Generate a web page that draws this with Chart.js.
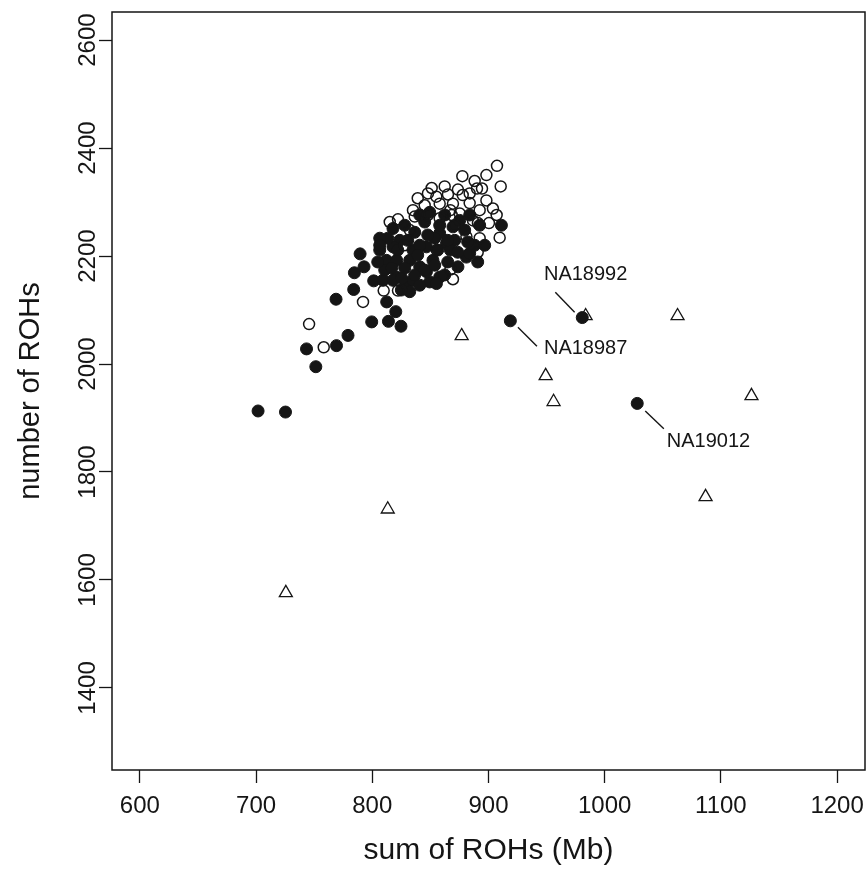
<!DOCTYPE html>
<html>
<head>
<meta charset="utf-8">
<script src="https://cdn.jsdelivr.net/npm/chart.js@4.4.1/dist/chart.umd.min.js"></script>
<style>
html,body{margin:0;padding:0;background:#fff;}
#wrap{width:866px;height:870px;}
</style>
</head>
<body>
<div id="wrap"><canvas id="c" width="866" height="870"></canvas></div>
<script>
// ---- data ----
const xTickValues = [600, 700, 800, 900, 1000, 1100, 1200];
const yTickValues = [1400, 1600, 1800, 2000, 2200, 2400, 2600];
const xTitle = 'sum of ROHs (Mb)';
const yTitle = 'number of ROHs';

// filled circles [sum of ROHs (Mb), number of ROHs]
const filledPoints = [
  [701.7,1913],[725.3,1911],[751.4,1995],[743.4,2028],[769.2,2034],[779.1,2053],
  [799.5,2078],[813.9,2079],[824.7,2070],[820.2,2097],[812.4,2115],[768.8,2120],
  [784.0,2138],[784.6,2169],[792.9,2180],[789.5,2204],[801.2,2154],[911.1,2257],
  [817.8,2251],[823.6,2229],[812.2,2192],[817.8,2217],[881.0,2198],[873.7,2180],
  [858.0,2161],[849.4,2152],[829.4,2149],[835.0,2211],[846.6,2217],[858.0,2242],
  [869.4,2254],[863.8,2223],[852.2,2192],[840.8,2180],[832.2,2192],[820.8,2161],
  [809.2,2155],[883.8,2205],[817.8,2155],[832.2,2134],[825.0,2137],[846.6,2171],
  [835.0,2155],[840.8,2146],[855.2,2149],[827.9,2257],[836.5,2244],[845.1,2263],
  [853.7,2233],[862.3,2276],[870.9,2229],[879.5,2248],[888.1,2220],[840.8,2220],
  [849.4,2281],[883.8,2276],[892.4,2257],[867.2,2211],[821.0,2192],[827.9,2178],
  [836.5,2165],[810.7,2174],[864.9,2189],[890.7,2189],[806.4,2211],[804.7,2189],
  [813.3,2233],[821.9,2211],[830.5,2229],[839.1,2202],[847.7,2239],[856.3,2211],
  [864.9,2229],[873.5,2207],[882.1,2226],[845.1,2174],[853.7,2183],[862.3,2165],
  [816.7,2178],[825.3,2159],[840.8,2276],[858.0,2257],[875.2,2266],[896.7,2220],
  [806.4,2233],[806.4,2220],
  [918.8,2080],[980.7,2086],[1028.0,1927]
];

// open circles
const openPoints = [
  [745.6,2074],[758.2,2031],[792.0,2115],[809.8,2136],[869.4,2157],[867.2,2175],
  [822.1,2136],[907.3,2367],[898.2,2350],[910.5,2329],[877.5,2348],[888.1,2339],
  [890.1,2325],[894.4,2325],[873.7,2323],[847.9,2316],[855.1,2310],[865.1,2314],
  [898.2,2303],[903.8,2288],[892.4,2285],[900.4,2261],[909.6,2234],[883.8,2298],
  [886.6,2266],[881.0,2236],[835.0,2285],[822.1,2268],[845.1,2294],[858.0,2297],
  [869.4,2297],[875.2,2279],[858.0,2270],[883.8,2316],[890.9,2261],[847.9,2276],
  [836.5,2273],[867.2,2285],[832.2,2248],[870.9,2257],[890.7,2207],[855.4,2211],
  [827.9,2220],[839.1,2307],[851.1,2326],[862.3,2329],[877.8,2313],[868.3,2276],
  [815.0,2263],[892.4,2233],[907.0,2276]
];

// open triangles
const trianglePoints = [
  [725.6,1576],[813.3,1731],[876.9,2052],[983.6,2089],[1062.7,2089],
  [949.2,1978],[956.0,1930],[1126.3,1941],[1086.8,1754]
];

// labelled samples: name, leader line (from -> to) and text centre, in data units
const sampleNames = ['NA18992', 'NA18987', 'NA19012'];
const sampleLeaderFrom = [[957.5,2133],[925.3,2068],[1034.9,1913]];
const sampleLeaderTo   = [[974.1,2096],[941.7,2033],[1050.9,1880]];
const sampleTextAt     = [[983.6,2165],[983.6,2028],[1089.3,1857]];

// ---- chart ----
const INK = '#151515';
const FONT = '"Liberation Sans", Arial, Helvetica, sans-serif';
const toXY = arr => arr.map(p => ({x: p[0], y: p[1]}));

const boxPlugin = {
  id: 'box',
  afterDraw(chart) {
    const {ctx, chartArea: a} = chart;
    ctx.save();
    ctx.strokeStyle = INK;
    ctx.lineWidth = 1.5;
    ctx.strokeRect(a.left, a.top, a.right - a.left, a.bottom - a.top);
    ctx.restore();
  }
};

// tick labels drawn at the library's tick positions
const tickLabelPlugin = {
  id: 'tickLabels',
  afterDraw(chart) {
    const {ctx, chartArea: a} = chart;
    const xs = chart.scales.x, ys = chart.scales.y;
    ctx.save();
    ctx.fillStyle = INK;
    ctx.font = '24px ' + FONT;
    ctx.textAlign = 'center';
    ctx.textBaseline = 'middle';
    xTickValues.forEach(v => {
      ctx.fillText(String(v), xs.getPixelForValue(v), a.bottom + 36);
    });
    yTickValues.forEach(v => {
      const py = ys.getPixelForValue(v);
      ctx.save();
      ctx.translate(a.left - 24, py);
      ctx.rotate(-Math.PI / 2);
      ctx.fillText(String(v), 0, 0);
      ctx.restore();
    });
    ctx.restore();
  }
};

const samplePlugin = {
  id: 'samples',
  afterDatasetsDraw(chart) {
    const {ctx} = chart;
    const xs = chart.scales.x, ys = chart.scales.y;
    ctx.save();
    ctx.strokeStyle = INK;
    ctx.fillStyle = INK;
    ctx.lineWidth = 1.4;
    ctx.font = '20px ' + FONT;
    ctx.textAlign = 'center';
    ctx.textBaseline = 'middle';
    sampleNames.forEach((name, i) => {
      ctx.beginPath();
      ctx.moveTo(xs.getPixelForValue(sampleLeaderFrom[i][0]), ys.getPixelForValue(sampleLeaderFrom[i][1]));
      ctx.lineTo(xs.getPixelForValue(sampleLeaderTo[i][0]), ys.getPixelForValue(sampleLeaderTo[i][1]));
      ctx.stroke();
      ctx.fillText(name, xs.getPixelForValue(sampleTextAt[i][0]), ys.getPixelForValue(sampleTextAt[i][1]));
    });
    ctx.restore();
  }
};

new Chart(document.getElementById('c'), {
  type: 'scatter',
  data: {
    datasets: [
      {
        label: 'open',
        data: toXY(openPoints),
        pointStyle: 'circle',
        pointRadius: 5.5,
        pointBackgroundColor: 'rgba(0,0,0,0)',
        pointBorderColor: INK,
        pointBorderWidth: 1.5,
        order: 0
      },
      {
        label: 'filled',
        data: toXY(filledPoints),
        pointStyle: 'circle',
        pointRadius: 6,
        pointBackgroundColor: INK,
        pointBorderColor: INK,
        pointBorderWidth: 1,
        order: 1
      },
      {
        label: 'triangle',
        data: toXY(trianglePoints),
        pointStyle: 'triangle',
        pointRadius: 7.5,
        pointBackgroundColor: 'rgba(0,0,0,0)',
        pointBorderColor: INK,
        pointBorderWidth: 1.3,
        order: 2
      }
    ]
  },
  options: {
    responsive: false,
    animation: false,
    events: [],
    layout: {autoPadding: false, padding: {top: 12, right: 1, left: 0, bottom: 0}},
    plugins: {legend: {display: false}, tooltip: {enabled: false}},
    scales: {
      x: {
        type: 'linear',
        min: 576, max: 1224,
        afterBuildTicks: s => { s.ticks = xTickValues.map(v => ({value: v})); },
        afterFit: s => { s.height = 100; s.paddingLeft = 0; s.paddingRight = 0; },
        border: {display: false},
        grid: {drawOnChartArea: false, drawTicks: true, tickLength: 13, tickColor: INK, tickWidth: 1.3, color: INK},
        ticks: {display: false, font: {family: FONT, size: 24}},
        title: {display: true, text: xTitle, color: INK, font: {family: FONT, size: 30}, padding: {top: 0, bottom: 1}}
      },
      y: {
        type: 'linear',
        min: 1248, max: 2652,
        afterBuildTicks: s => { s.ticks = yTickValues.map(v => ({value: v})); },
        afterFit: s => { s.width = 112; s.paddingTop = 0; s.paddingBottom = 0; },
        border: {display: false},
        grid: {drawOnChartArea: false, drawTicks: true, tickLength: 13, tickColor: INK, tickWidth: 1.3, color: INK},
        ticks: {display: false, font: {family: FONT, size: 24}},
        title: {display: true, text: yTitle, color: INK, font: {family: FONT, size: 29}, padding: {top: 14, bottom: 0}}
      }
    }
  },
  plugins: [boxPlugin, tickLabelPlugin, samplePlugin]
});
</script>
</body>
</html>
